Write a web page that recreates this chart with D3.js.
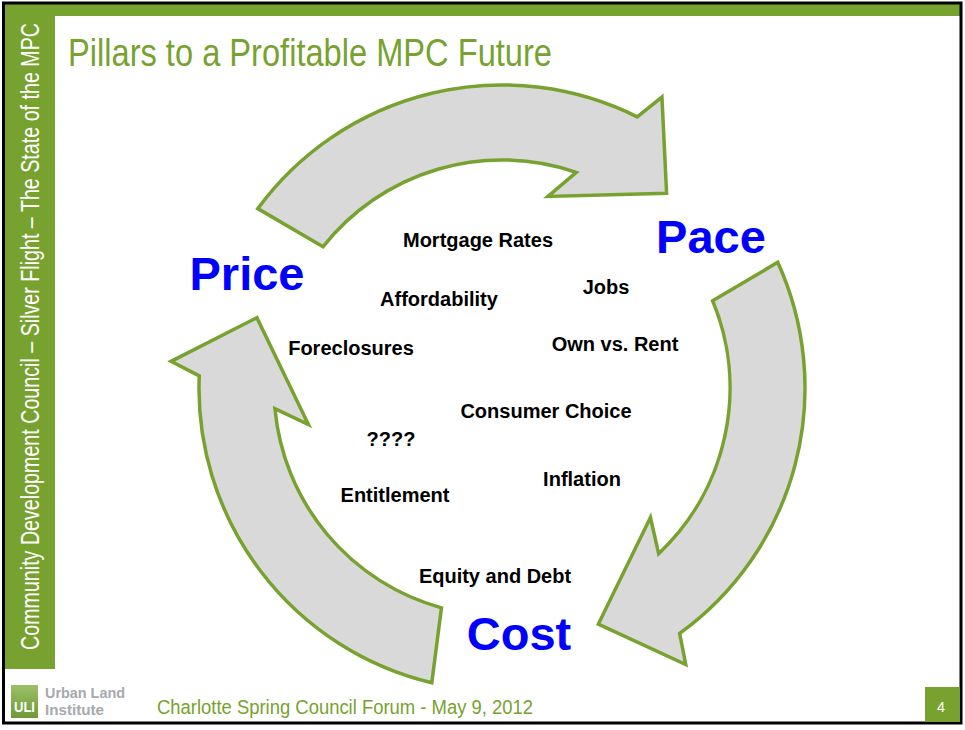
<!DOCTYPE html>
<html>
<head>
<meta charset="utf-8">
<script src="https://cdn.jsdelivr.net/npm/d3@7"></script>
<style>
  html, body { margin: 0; padding: 0; background: #fff; }
  svg { display: block; }
</style>
</head>
<body>
<div id="slide"></div>
<script>
// Pillars to a Profitable MPC Future - cycle of three arrows

const slideTitle = "Pillars to a Profitable MPC Future";
const sideText = "Community Development Council \u2013 Silver Flight \u2013 The State of the MPC";
const footerText = "Charlotte Spring Council Forum - May 9, 2012";
const pageNumber = "4";

// the three pillars and the arrows between them (angles in degrees, clockwise from east)
const pillars = ["Price", "Pace", "Cost"];
const arrowTail = [-143.7, -24.5, 103.4];
const arrowNotch = [-63.5, 54.1, 182.3];

// factors written inside the cycle
const factors = [
  "Mortgage Rates", "Affordability", "Jobs", "Foreclosures", "Own vs. Rent",
  "Consumer Choice", "????", "Inflation", "Entitlement", "Equity and Debt"
];

// layout (centre x, baseline y) for labels
const pillarPos = [[247, 290], [711, 253], [519, 650]];
const factorPos = [
  [478, 247], [439, 306], [606, 294], [351, 355], [615, 351],
  [546, 418], [391, 446], [582, 486], [395, 502], [495, 583]
];

const W = 965, H = 730;
const green = "#77a22f";
const sans = "'Liberation Sans', Arial, sans-serif";

const svg = d3.select("#slide")
  .append("svg")
  .attr("width", W)
  .attr("height", H);

// green frame bands
svg.append("rect").attr("x", 4).attr("y", 4).attr("width", 956).attr("height", 12).attr("fill", green);
svg.append("rect").attr("x", 4).attr("y", 4).attr("width", 51).attr("height", 665).attr("fill", green);

// black border
svg.append("rect")
  .attr("x", 3.5).attr("y", 3)
  .attr("width", 957.5).attr("height", 720)
  .attr("fill", "none")
  .attr("stroke", "#000")
  .attr("stroke-width", 3);

// side text (narrowed Liberation Sans stands in for Arial Narrow)
svg.append("text")
  .attr("transform", "translate(39,650) rotate(-90)")
  .attr("fill", "#fff")
  .style("font-family", sans)
  .style("font-size", "26px")
  .attr("textLength", 627)
  .attr("lengthAdjust", "spacingAndGlyphs")
  .text(sideText);

// title
svg.append("text")
  .attr("x", 68).attr("y", 66)
  .attr("fill", green)
  .style("font-family", sans)
  .style("font-size", "38px")
  .attr("textLength", 484)
  .attr("lengthAdjust", "spacingAndGlyphs")
  .text(slideTitle);

// ---- arrows ----
const cx = 502, cy = 388;
const R = 303, r = 228;
const rad = d3.scaleLinear().domain([0, 360]).range([0, 2 * Math.PI]);
const pt = (radius, deg) => [cx + radius * Math.cos(rad(deg)), cy + radius * Math.sin(rad(deg))];

function arrowPath(tail, notch) {
  const p = d3.path();
  const t0 = pt(R, tail);
  p.moveTo(t0[0], t0[1]);
  p.arc(cx, cy, R, rad(tail), rad(notch), false);
  const ho = pt(332, notch + 2.3);
  const tip = pt(255, notch + 13.7);
  const hi = pt(197, notch - 13);
  const ni = pt(r, notch - 7.5);
  p.lineTo(ho[0], ho[1]);
  p.lineTo(tip[0], tip[1]);
  p.lineTo(hi[0], hi[1]);
  p.lineTo(ni[0], ni[1]);
  p.arc(cx, cy, r, rad(notch - 7.5), rad(tail + 2), true);
  p.closePath();
  return p.toString();
}

svg.selectAll("path.arrow")
  .data(d3.range(arrowTail.length))
  .join("path")
  .attr("class", "arrow")
  .attr("d", i => arrowPath(arrowTail[i], arrowNotch[i]))
  .attr("fill", "#d9d9d9")
  .attr("stroke", green)
  .attr("stroke-width", 3.5)
  .attr("stroke-linejoin", "miter");

// pillar labels
svg.selectAll("text.pillar")
  .data(pillars)
  .join("text")
  .attr("class", "pillar")
  .attr("x", (d, i) => pillarPos[i][0])
  .attr("y", (d, i) => pillarPos[i][1])
  .attr("text-anchor", "middle")
  .attr("fill", "#0000ff")
  .style("font-family", sans)
  .style("font-weight", "bold")
  .style("font-size", "47px")
  .text(d => d);

// factor labels
svg.selectAll("text.factor")
  .data(factors)
  .join("text")
  .attr("class", "factor")
  .attr("x", (d, i) => factorPos[i][0])
  .attr("y", (d, i) => factorPos[i][1])
  .attr("text-anchor", "middle")
  .attr("fill", "#000")
  .style("font-family", sans)
  .style("font-weight", "bold")
  .style("font-size", "20px")
  .text(d => d);

// ---- footer ----
const logoGrad = svg.append("defs").append("linearGradient")
  .attr("id", "logoGrad").attr("x1", 0).attr("y1", 0).attr("x2", 0).attr("y2", 1);
logoGrad.append("stop").attr("offset", "0%").attr("stop-color", "#9cc067");
logoGrad.append("stop").attr("offset", "100%").attr("stop-color", "#6e9a35");

svg.append("rect")
  .attr("x", 11).attr("y", 685).attr("width", 27).attr("height", 33)
  .attr("fill", "url(#logoGrad)");
svg.append("text")
  .attr("x", 24.5).attr("y", 712)
  .attr("text-anchor", "middle")
  .attr("fill", "#fff")
  .style("font-family", sans)
  .style("font-weight", "bold")
  .style("font-size", "15px")
  .attr("textLength", 21)
  .attr("lengthAdjust", "spacingAndGlyphs")
  .text("ULI");
svg.append("text")
  .attr("x", 45).attr("y", 698)
  .attr("fill", "#a6a9ad")
  .style("font-family", sans)
  .style("font-weight", "bold")
  .style("font-size", "15px")
  .attr("textLength", 80)
  .attr("lengthAdjust", "spacingAndGlyphs")
  .text("Urban Land");
svg.append("text")
  .attr("x", 45).attr("y", 715)
  .attr("fill", "#a6a9ad")
  .style("font-family", sans)
  .style("font-weight", "bold")
  .style("font-size", "15px")
  .attr("textLength", 59)
  .attr("lengthAdjust", "spacingAndGlyphs")
  .text("Institute");

svg.append("text")
  .attr("x", 157).attr("y", 714)
  .attr("fill", green)
  .style("font-family", sans)
  .style("font-size", "20px")
  .attr("textLength", 376)
  .attr("lengthAdjust", "spacingAndGlyphs")
  .text(footerText);

svg.append("rect")
  .attr("x", 925).attr("y", 687).attr("width", 35).attr("height", 35)
  .attr("fill", green);
svg.append("text")
  .attr("x", 941).attr("y", 712)
  .attr("text-anchor", "middle")
  .attr("fill", "#fff")
  .style("font-family", sans)
  .style("font-size", "15px")
  .attr("textLength", 8)
  .attr("lengthAdjust", "spacingAndGlyphs")
  .text(pageNumber);
</script>
</body>
</html>
